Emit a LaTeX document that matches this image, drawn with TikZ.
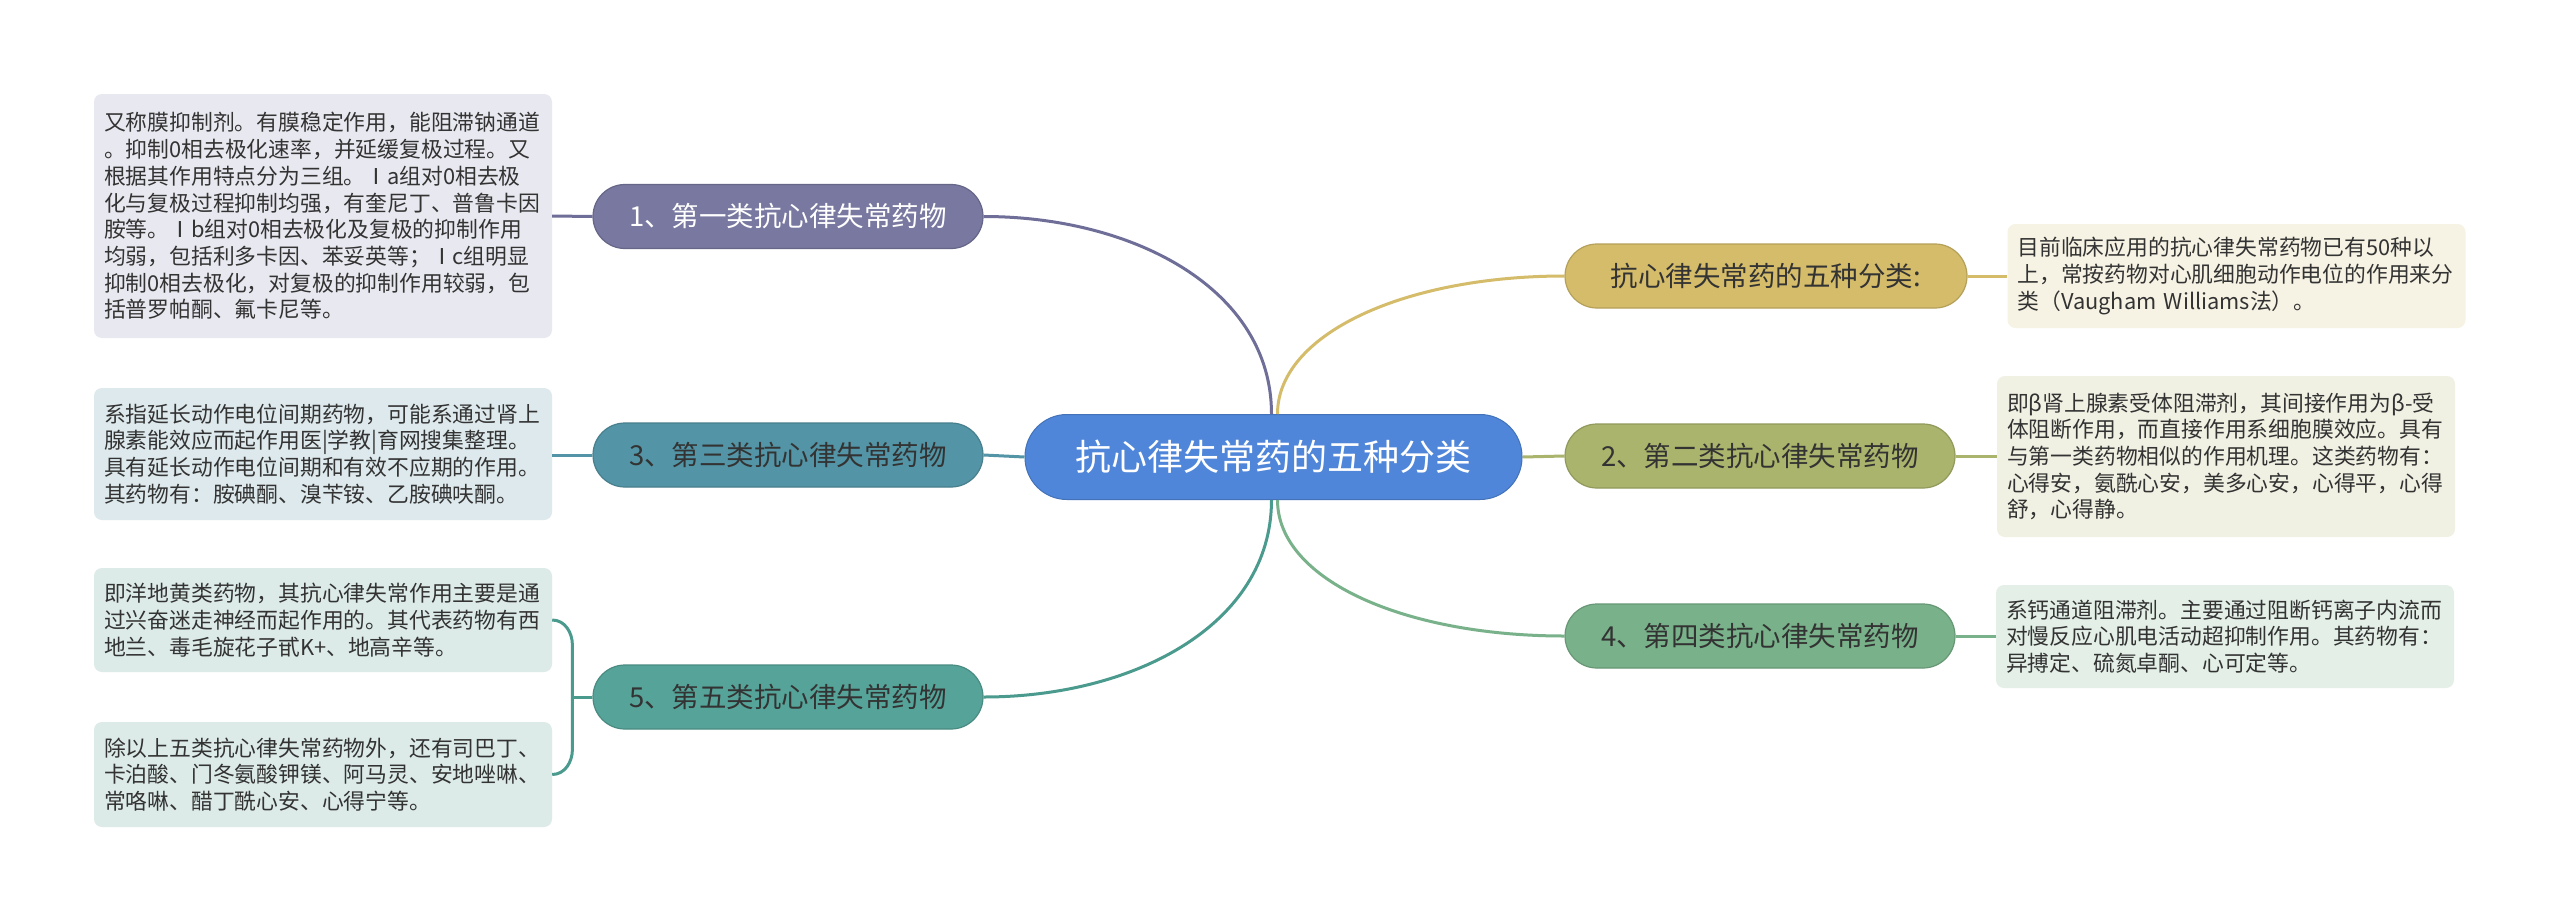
\documentclass[tikz,border=0pt]{standalone}
\usepackage{fontspec}
\setmainfont{Noto Sans CJK SC}
\usetikzlibrary{calc}
\definecolor{cblue}{HTML}{4F86D9}
\definecolor{cpur}{HTML}{7878A0}
\definecolor{cpurl}{HTML}{6E6E98}
\definecolor{cteal}{HTML}{5395A6}
\definecolor{ctealg}{HTML}{56A499}
\definecolor{ctealgl}{HTML}{4A9A8E}
\definecolor{cyel}{HTML}{D4BC6A}
\definecolor{coli}{HTML}{ABB46C}
\definecolor{cgrn}{HTML}{79B28A}
\definecolor{bpur}{HTML}{E8E8F0}
\definecolor{bteal}{HTML}{DDE9EC}
\definecolor{btealg}{HTML}{DCEBE8}
\definecolor{byel}{HTML}{F6F3E4}
\definecolor{boli}{HTML}{F0F0E3}
\definecolor{bgrn}{HTML}{E3EFE7}
\definecolor{tdark}{HTML}{333333}
\begin{document}
\begin{tikzpicture}[x=1pt,y=-1pt,
  central/.style={rectangle,rounded corners=42pt,fill=cblue,draw=cblue!85!black,line width=1pt,
    minimum width=497pt,minimum height=85pt,inner sep=0pt,text=white,font=\fontsize{36}{40}\selectfont},
  branch/.style={rectangle,rounded corners=32pt,line width=1.2pt,
    minimum width=390pt,minimum height=64pt,inner sep=0pt,font=\fontsize{27.5}{32}\selectfont},
  infobox/.style={rectangle,rounded corners=8pt,inner xsep=10pt,inner ysep=0pt,
    text width=438pt,align=left,text=tdark,font=\fontsize{21.8}{26.7}\selectfont},
  conn/.style={line width=3pt}
]
\fill[white] (0,0) rectangle (2560,921);
\useasboundingbox (0,0) rectangle (2560,921);

% central
\node[central] (c) at (1273.5,457) {抗心律失常药的五种分类};

% branches left
\node[branch,fill=cpur,draw=cpur!85!black,text=white] (n1) at (788,216.5) {1、第一类抗心律失常药物};
\node[branch,fill=cteal,draw=cteal!85!black,text=tdark] (n3) at (788,455) {3、第三类抗心律失常药物};
\node[branch,fill=ctealg,draw=ctealg!85!black,text=tdark] (n5) at (788,697) {5、第五类抗心律失常药物};
% branches right
\node[branch,fill=cyel,draw=cyel!85!black,text=tdark,minimum width=402pt] (ny) at (1766,276) {抗心律失常药的五种分类:};
\node[branch,fill=coli,draw=coli!85!black,text=tdark] (n2) at (1760,456) {2、第二类抗心律失常药物};
\node[branch,fill=cgrn,draw=cgrn!85!black,text=tdark] (n4) at (1760,636) {4、第四类抗心律失常药物};

% info boxes
\node[infobox,fill=bpur,minimum width=458pt,minimum height=244pt] (b1) at (323,216) {又称膜抑制剂。有膜稳定作用，能阻滞钠通道\\。抑制0相去极化速率，并延缓复极过程。又\\根据其作用特点分为三组。Ⅰa组对0相去极\\化与复极过程抑制均强，有奎尼丁、普鲁卡因\\胺等。Ⅰb组对0相去极化及复极的抑制作用\\均弱，包括利多卡因、苯妥英等；Ⅰc组明显\\抑制0相去极化，对复极的抑制作用较弱，包\\括普罗帕酮、氟卡尼等。};
\node[infobox,fill=bteal,minimum width=458pt,minimum height=132pt] (b3) at (323,454) {系指延长动作电位间期药物，可能系通过肾上\\腺素能效应而起作用医|学教|育网搜集整理。\\具有延长动作电位间期和有效不应期的作用。\\其药物有：胺碘酮、溴苄铵、乙胺碘呋酮。};
\node[infobox,fill=btealg,minimum width=458pt,minimum height=104pt] (b5a) at (323,620) {即洋地黄类药物，其抗心律失常作用主要是通\\过兴奋迷走神经而起作用的。其代表药物有西\\地兰、毒毛旋花子甙K+、地高辛等。};
\node[infobox,fill=btealg,minimum width=458pt,minimum height=105pt] (b5b) at (323,774.5) {除以上五类抗心律失常药物外，还有司巴丁、\\卡泊酸、门冬氨酸钾镁、阿马灵、安地唑啉、\\常咯啉、醋丁酰心安、心得宁等。};
\node[infobox,fill=byel,minimum width=457pt,minimum height=104pt] (b0) at (2236.5,276) {目前临床应用的抗心律失常药物已有50种以\\上，常按药物对心肌细胞动作电位的作用来分\\类（Vaugham Williams法）。};
\node[infobox,fill=boli,minimum width=458pt,minimum height=161pt] (b2) at (2226,456.5) {即β肾上腺素受体阻滞剂，其间接作用为β-受\\体阻断作用，而直接作用系细胞膜效应。具有\\与第一类药物相似的作用机理。这类药物有：\\心得安，氨酰心安，美多心安，心得平，心得\\舒，心得静。};
\node[infobox,fill=bgrn,minimum width=456pt,minimum height=103pt] (b4) at (2225,636.5) {系钙通道阻滞剂。主要通过阻断钙离子内流而\\对慢反应心肌电活动超抑制作用。其药物有：\\异搏定、硫氮卓酮、心可定等。};

% connectors from central
\coordinate (cl) at ($(c.north)+(-2,0)$);
\coordinate (cr) at ($(c.north)+(4,0)$);
\coordinate (dl) at ($(c.south)+(-2,0)$);
\coordinate (dr) at ($(c.south)+(4,0)$);
\draw[conn,draw=cpurl] (cl) to[out=90,in=0,out distance=125pt,in distance=150pt] (n1.east);
\draw[conn,draw=cyel] (cr) to[out=90,in=180,out distance=80pt,in distance=160pt] (ny.west);
\draw[conn,draw=cgrn] (dr) to[out=-90,in=180,out distance=80pt,in distance=160pt] (n4.west);
\draw[conn,draw=ctealgl] (dl) to[out=-90,in=0,out distance=125pt,in distance=150pt] (n5.east);
\draw[conn,draw=cteal] (c.west) -- (n3.east);
\draw[conn,draw=coli] (c.east) -- (n2.west);

% branch to boxes
\draw[conn,draw=cpurl] (n1.west) -- (b1.east);
\draw[conn,draw=cteal] (n3.west) -- (b3.east |- n3.west);
\draw[conn,draw=cyel] (ny.east) -- (b0.west);
\draw[conn,draw=coli] (n2.east) -- (b2.west |- n2.east);
\draw[conn,draw=cgrn] (n4.east) -- (b4.west |- n4.east);

% bracket for branch 5
\coordinate (bx) at ($(n5.west)+(-20,0)$);
\draw[conn,draw=ctealgl] (n5.west) -- (bx);
\draw[conn,draw=ctealgl] (b5a.east) to[out=0,in=90] ($(bx|-b5a.east)+(0,25)$) -- ($(bx|-b5b.east)+(0,-25)$) to[out=-90,in=0] (b5b.east);
\end{tikzpicture}
\end{document}
